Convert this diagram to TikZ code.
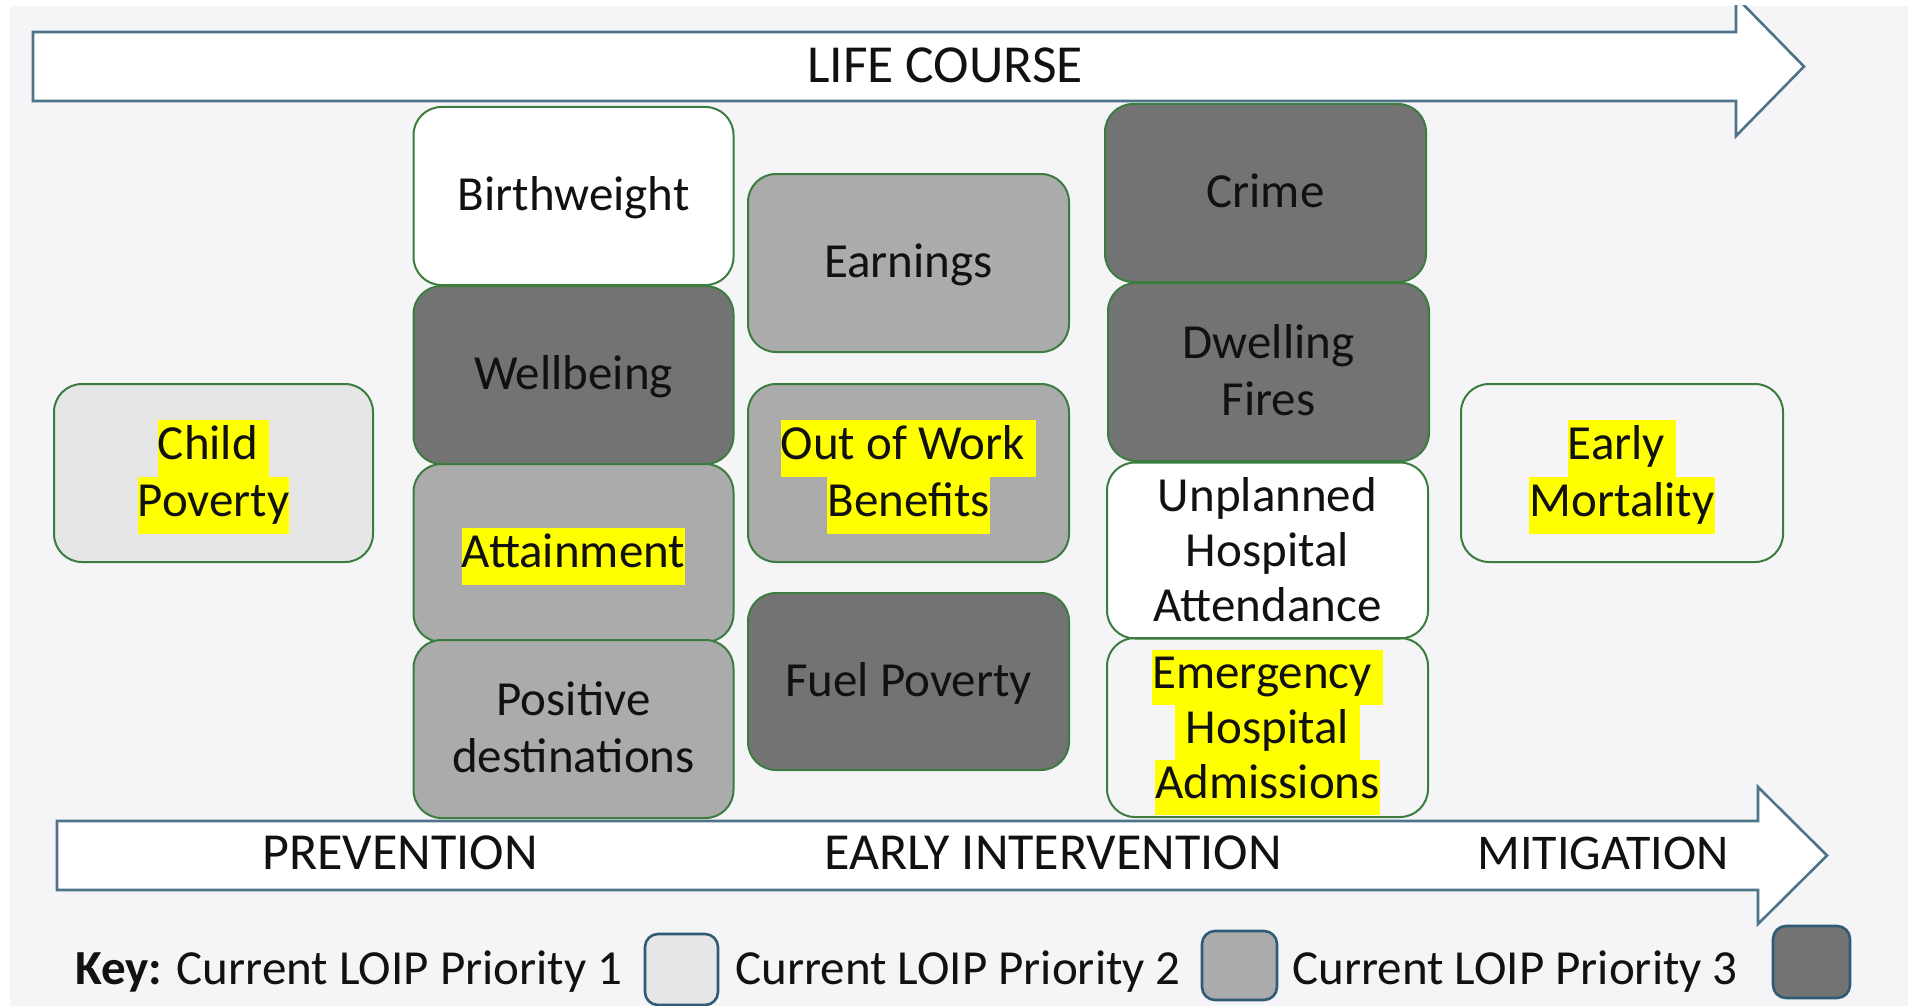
\documentclass[tikz,border=0pt]{standalone}
\usepackage{fontspec}
\setmainfont{Carlito}
\definecolor{pagebg}{HTML}{F5F4F7}
\definecolor{arrowline}{HTML}{4F7389}
\definecolor{boxline}{HTML}{3C7D3F}
\definecolor{keyline}{HTML}{2F5B74}
\definecolor{prioA}{HTML}{E6E6E6}
\definecolor{prioB}{HTML}{ABABAB}
\definecolor{prioC}{HTML}{737373}
\definecolor{hly}{HTML}{FFFF00}
\definecolor{ink}{HTML}{111111}
% one line of box text, with a full line box
\newcommand\bl[1]{\strut#1}
% the same, with a yellow marker behind it
\newcommand\hlline[1]{{\setlength{\fboxsep}{0pt}\colorbox{hly}{\strut#1}}}
\newcommand\boxfont{\fontsize{49}{57}\selectfont}
\newcommand\tightfont{\fontsize{49}{55}\selectfont}
\newcommand\bandfont{\fontsize{52}{60}\selectfont}

\begin{document}
\begin{tikzpicture}[x=1pt,y=-1pt,
  kpi/.style={draw=boxline, line width=2pt, rounded corners=28pt,
    minimum width=320pt, minimum height=178pt, inner sep=0pt,
    align=center, font=\boxfont, text=ink, text depth=10pt},
  threeline/.style={font=\tightfont, text depth=6pt},
  band/.style={draw=arrowline, line width=2.6pt, fill=white, line join=miter},
  bandlabel/.style={font=\bandfont, text=ink, inner sep=0pt},
  keybox/.style={draw=keyline, line width=2.6pt, rounded corners=13pt, inner sep=0pt},
  keytext/.style={font=\boxfont, text=ink, inner sep=0pt, anchor=base west}]
\useasboundingbox (0,0) rectangle (1908,1006);
\fill[white] (0,0) rectangle (1908,1006);
\fill[pagebg] (10,6) rectangle (1908,1006);

\begin{scope}
\clip (10,6) rectangle (1908,1006);

% life-course band along the top
\draw[band] (33,32) -- (1736,32) -- (1736,-3) -- (1804,66.5) -- (1736,136)
  -- (1736,101) -- (33,101) -- cycle;
\node[bandlabel, font=\fontsize{53.5}{60}\selectfont] (lifecourse) at (945,65) {LIFE COURSE};

% prevention / intervention / mitigation band along the bottom
\draw[band] (57,821) -- (1758,821) -- (1758,787) -- (1827,855.5) -- (1758,924)
  -- (1758,890) -- (57,890) -- cycle;
\node[bandlabel] (prevention) at (400,853) {PREVENTION};
\node[bandlabel] (earlyint) at (1053,853) {EARLY INTERVENTION};
\node[bandlabel, font=\fontsize{50}{60}\selectfont] (mitigation) at (1603,853) {MITIGATION};

% first column
\node[kpi, fill=prioA, minimum width=319pt] (childpov) at (213.5,473)
  {\hlline{Child\ }\\\hlline{Poverty}};

% second column
\node[kpi, fill=white] (birth) at (573.5,196) {\bl{Birthweight}};
\node[kpi, fill=prioC] (wellbeing) at (573.5,375) {\bl{Wellbeing}};
\node[kpi, fill=prioB] (attain) at (573.5,553) {\hlline{Attainment}};
\node[kpi, fill=prioB] (posdest) at (573.5,729) {\bl{Positive}\\\bl{destinations}};

% third column
\node[kpi, fill=prioB, minimum width=321pt] (earnings) at (908.5,263) {\bl{Earnings}};
\node[kpi, fill=prioB, minimum width=321pt] (oow) at (908.5,473)
  {\hlline{Out of Work\ }\\\hlline{Benefits}};
\node[kpi, fill=prioC, minimum width=321pt, minimum height=177pt] (fuel) at (908.5,681.5)
  {\bl{Fuel Poverty}};

% fourth column
\node[kpi, fill=prioC, minimum width=321pt] (crime) at (1265.5,193) {\bl{Crime}};
\node[kpi, fill=prioC, minimum width=321pt] (dwelling) at (1268.5,372)
  {\bl{Dwelling}\\\bl{Fires}};
\node[kpi, threeline, fill=white, minimum width=321pt, minimum height=176pt] (unplanned) at (1267.5,550.5)
  {\bl{Unplanned}\\\bl{Hospital}\\\bl{Attendance}};
\node[kpi, threeline, minimum width=321pt, minimum height=179pt] (emergency) at (1267.5,727.5)
  {\hlline{Emergency\ }\\\hlline{\ Hospital\ }\\\hlline{Admissions}};

% fifth column
\node[kpi, minimum width=322pt] (earlymort) at (1622,473)
  {\hlline{Early\ }\\\hlline{Mortality}};

% key
\node[keytext] (key1) at (75,984) {\textbf{Key:} Current LOIP Priority 1};
\node[keybox, fill=prioA, minimum width=73pt, minimum height=71pt] (swatch1) at (681.5,969.5) {};
\node[keytext] (key2) at (735,984) {Current LOIP Priority 2};
\node[keybox, fill=prioB, minimum width=75pt, minimum height=69pt] (swatch2) at (1239.5,965.5) {};
\node[keytext] (key3) at (1292,984) {Current LOIP Priority 3};
\node[keybox, fill=prioC, minimum width=77pt, minimum height=72pt] (swatch3) at (1811.5,962) {};
\end{scope}
\end{tikzpicture}
\end{document}
